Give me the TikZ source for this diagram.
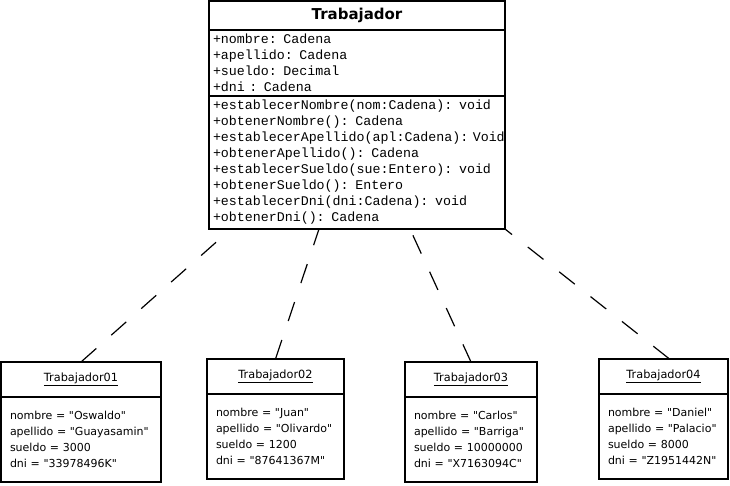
\documentclass[tikz,border=0pt]{standalone}
\usepackage{fontspec}
\setmainfont[Ligatures=TeXOff]{DejaVu Sans}
\newfontfamily\codefont{Liberation Mono}
\usetikzlibrary{positioning}

\tikzset{
	box/.style={draw, line width=1.5pt, inner sep=0pt, outer sep=0pt},
	clsname/.style={box, anchor=north west, minimum width=296pt, minimum height=29pt,
		font=\fontsize{15}{18}\selectfont\bfseries},
	clspart/.style={box, text width=288pt, inner xsep=4pt, align=left,
		minimum height=#1, font=\codefont\fontsize{13.3}{16}\selectfont},
	objhead/.style={box, anchor=north west, minimum height=35pt, minimum width=#1,
		font=\fontsize{11.3}{16}\selectfont},
	objbody/.style={box, minimum height=85pt, inner xsep=9pt, text width=#1, align=left,
		font=\fontsize{11}{16}\selectfont},
	link/.style={line width=1.2pt, dash pattern=on 20pt off 20pt}
}

\begin{document}
\begin{tikzpicture}[x=1pt, y=-1pt]
	\useasboundingbox (0,0) rectangle (730,485);

	\node [clsname] (cls) at (209,1) {Trabajador};

	\node [clspart=66pt, below=0pt of cls] (clsattr)
		{+nombre: Cadena\\+apellido: Cadena\\+sueldo: Decimal\\+dni : Cadena};

	\node [clspart=133pt, below=0pt of clsattr] (clsops)
		{+establecerNombre(nom:Cadena): void\\
		+obtenerNombre(): Cadena\\
		+establecerApellido(apl:Cadena):~Void\\
		+obtenerApellido(): Cadena\\
		+establecerSueldo(sue:Entero): void\\
		+obtenerSueldo(): Entero\\
		+establecerDni(dni:Cadena): void\\
		+obtenerDni(): Cadena};

	\node [objhead=160pt] (obj1) at (1,362) {\underline{Trabajador01}};
	\node [objbody=142pt, below=0pt of obj1] (obj1data)
		{nombre = "Oswaldo"\\apellido = "Guayasamin"\\sueldo = 3000\\dni = "33978496K"};

	\node [objhead=137pt] (obj2) at (207,359) {\underline{Trabajador02}};
	\node [objbody=119pt, below=0pt of obj2] (obj2data)
		{nombre = "Juan"\\apellido = "Olivardo"\\sueldo = 1200\\dni = "87641367M"};

	\node [objhead=132pt] (obj3) at (405,362) {\underline{Trabajador03}};
	\node [objbody=114pt, below=0pt of obj3] (obj3data)
		{nombre = "Carlos"\\apellido = "Barriga"\\sueldo = 10000000\\dni = "X7163094C"};

	\node [objhead=129pt] (obj4) at (599,359) {\underline{Trabajador04}};
	\node [objbody=111pt, below=0pt of obj4] (obj4data)
		{nombre = "Daniel"\\apellido = "Palacio"\\sueldo = 8000\\dni = "Z1951442N"};

	\draw [link, dash phase=20pt] ([xshift=22pt]clsops.south west) -- (obj1.north);
	\draw [link, dash phase=3pt] ([xshift=110pt]clsops.south west) -- (obj2.north);
	\draw [link, dash phase=33pt] ([xshift=201pt]clsops.south west) -- (obj3.north);
	\draw [link, dash phase=11pt] (clsops.south east) -- ([xshift=6pt]obj4.north);
\end{tikzpicture}
\end{document}
